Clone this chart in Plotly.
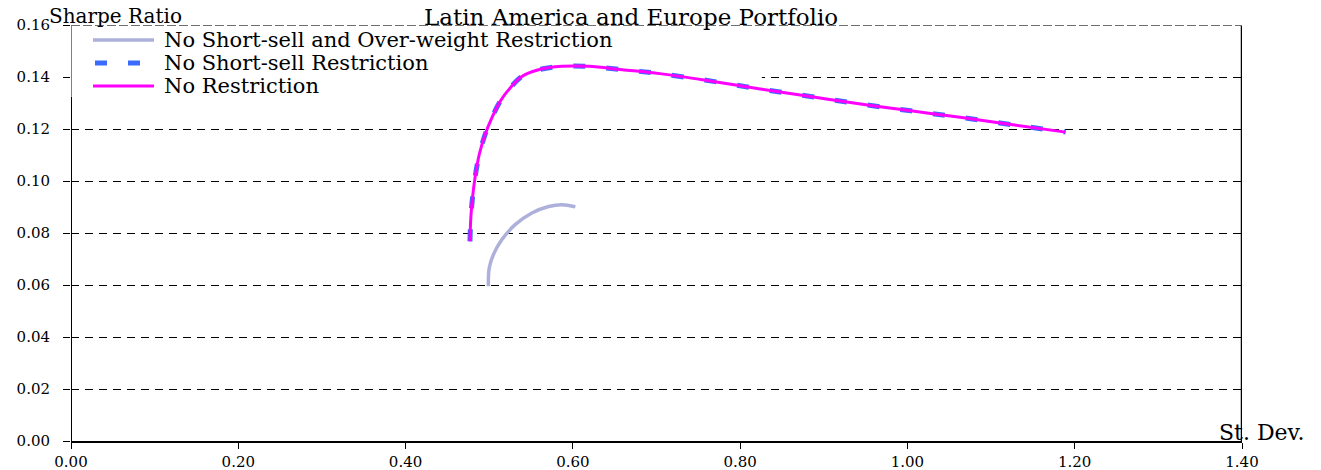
"""
Sharpe ratio frontiers - Latin America and Europe portfolio.
"""

import plotly.graph_objects as go

# ---------------------------------------------------------------------------
# Dados
# ---------------------------------------------------------------------------

sd_no_restriction = [0.477, 0.478, 0.480, 0.483, 0.488, 0.495, 0.503, 0.513,
                     0.525, 0.539, 0.559, 0.587, 0.619, 0.659, 0.704, 0.764,
                     0.824, 0.884, 0.944, 1.004, 1.063, 1.126, 1.189]
sr_no_restriction = [0.0768, 0.0858, 0.0935, 0.1012, 0.1101, 0.1178, 0.1242,
                     0.1306, 0.1358, 0.1402, 0.1428, 0.1441, 0.1441, 0.1428,
                     0.1413, 0.1385, 0.1354, 0.1325, 0.1296, 0.1270, 0.1245,
                     0.1216, 0.1188]

# sem restrição de venda a descoberto: praticamente igual à curva livre
sd_no_short = list(sd_no_restriction)
sr_no_short = list(sr_no_restriction)

sd_no_short_overweight = [0.499, 0.500, 0.505, 0.515, 0.531, 0.551, 0.571,
                          0.587, 0.603]
sr_no_short_overweight = [0.0595, 0.0665, 0.0717, 0.0774, 0.0832, 0.0877,
                          0.0902, 0.0909, 0.0901]

x_ticks = [0.0, 0.2, 0.4, 0.6, 0.8, 1.0, 1.2, 1.4]
y_ticks = [0.0, 0.02, 0.04, 0.06, 0.08, 0.10, 0.12, 0.14, 0.16]

# ---------------------------------------------------------------------------
# Estilo
# ---------------------------------------------------------------------------

FONT = "DejaVu Serif"
LAVENDER = "#aeb0dc"
BLUE = "#3a6bff"
MAGENTA = "#ff00ff"

# (nome, cor, largura, traço) na ordem da legenda
SERIES_STYLE = [
    ("No Short-sell and Over-weight Restriction", LAVENDER, 3.5, "solid"),
    ("No Short-sell Restriction", BLUE, 5, "12px,21px"),
    ("No Restriction", MAGENTA, 3, "solid"),
]
SERIES_DATA = [
    (sd_no_short_overweight, sr_no_short_overweight),
    (sd_no_short, sr_no_short),
    (sd_no_restriction, sr_no_restriction),
]

fig = go.Figure()

for (name, color, width, dash), (xs, ys) in zip(SERIES_STYLE, SERIES_DATA):
    fig.add_trace(go.Scatter(
        x=xs, y=ys,
        mode="lines", line_shape="spline",
        name=name,
        line=dict(color=color, width=width, dash=dash),
        showlegend=False,
    ))

shapes = [
    # fundo da legenda (fica por baixo das curvas, por cima das grades)
    dict(type="rect", xref="x", yref="y", x0=0, x1=0.826, y0=0.1324, y1=0.1593,
         fillcolor="white", line_width=0, layer="between"),
    dict(type="line", xref="x", yref="y", x0=0, x1=0, y0=0, y1=0.1324,
         line=dict(color="black", width=2)),
    dict(type="line", xref="x", yref="y", x0=0, x1=0, y0=0.1324, y1=0.16,
         line=dict(color="#808080", width=2)),
    dict(type="line", xref="x", yref="y", x0=1.4, x1=1.4, y0=0, y1=0.16,
         line=dict(color="black", width=2.5)),
    dict(type="line", xref="x", yref="y", x0=0, x1=1.4, y0=0.16, y1=0.16,
         line=dict(color="#707070", width=2, dash="9px,3px")),
]

annotations = [
    dict(text="Sharpe Ratio", xref="paper", yref="paper", x=-0.0205, y=1.0216,
         xanchor="left", yanchor="middle", showarrow=False,
         font=dict(family=FONT, size=20)),
    dict(text="St. Dev.", xref="paper", yref="paper", x=0.9787, y=0.0216,
         xanchor="left", yanchor="middle", showarrow=False,
         font=dict(family=FONT, size=22)),
]

# legenda desenhada à mão para controlar o espaçamento entre linhas
LEGEND_ROWS_Y = [0.9639, 0.9087, 0.8534]
for (name, color, width, dash), ly in zip(SERIES_STYLE, LEGEND_ROWS_Y):
    x0 = 0.0205 if dash != "solid" else 0.0188
    shapes.append(dict(type="line", xref="paper", yref="paper",
                       x0=x0, x1=0.0709, y0=ly, y1=ly,
                       line=dict(color=color, width=width, dash=dash)))
    annotations.append(dict(text=name, xref="paper", yref="paper", x=0.0777, y=ly,
                            xanchor="left", yanchor="middle", showarrow=False,
                            font=dict(family=FONT, size=21)))

fig.update_layout(
    width=1321,
    height=470,
    margin=dict(l=71, r=79, t=25, b=29),
    paper_bgcolor="white",
    plot_bgcolor="white",
    font=dict(family=FONT, size=15, color="black"),
    title=dict(text="Latin America and Europe Portfolio", x=0.4777, xanchor="center",
               y=0.964, yanchor="middle", font=dict(family=FONT, size=23)),
    showlegend=False,
    shapes=shapes,
    annotations=annotations,
)

fig.update_xaxes(
    range=[0, 1.4], tickvals=x_ticks, tickformat=".2f",
    showgrid=False, zeroline=False, automargin=False,
    showline=True, linecolor="black", linewidth=2,
    ticks="outside", ticklen=6, tickcolor="black",
)
fig.update_yaxes(
    range=[0, 0.16], tickvals=y_ticks, tickformat=".2f",
    showgrid=True, gridcolor="black", gridwidth=1, griddash="8px,6px",
    zeroline=False, showline=False, automargin=False,
    ticks="outside", ticklen=7, tickcolor="black", ticklabelstandoff=10,
)

# sem a margem padrão do <body>, o gráfico ocupa a janela inteira
fig.write_html("out.html", config={"displayModeBar": False},
               post_script="document.body.style.margin = '0';")
